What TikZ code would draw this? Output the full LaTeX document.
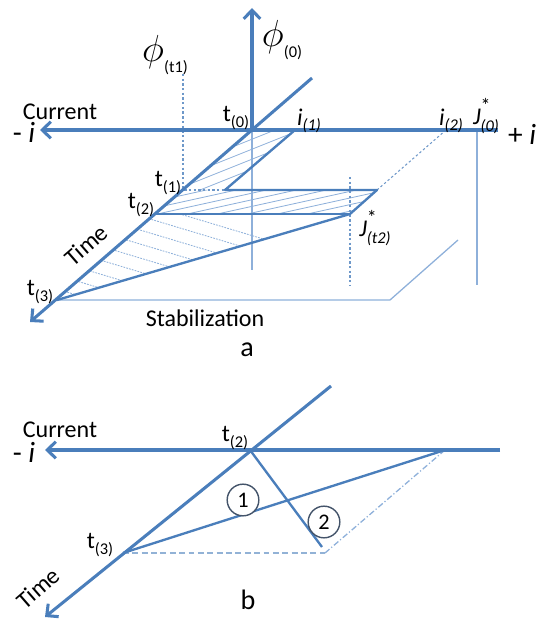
\documentclass[tikz,border=0pt]{standalone}
\usepackage{graphicx}
\usepackage{fontspec}
\setmainfont{Carlito}
\usetikzlibrary{arrows.meta}

\definecolor{axblue}{HTML}{4A7EBB}
\definecolor{lightblue}{HTML}{8EB0DA}
\definecolor{slate}{HTML}{44546A}

\newcommand{\subsize}{\fontsize{14}{16}\selectfont}
\newcommand{\tlab}[1]{t\raisebox{-0.45ex}{\subsize(#1)}}
\newcommand{\ilab}[1]{\textit{i}\raisebox{-0.45ex}{\subsize\itshape(#1)}}
\newcommand{\jlab}[1]{\textit{J}\rlap{\raisebox{1.05ex}{\fontsize{17}{18}\selectfont *}}\raisebox{-0.55ex}{\subsize\itshape(#1)}}
\newcommand{\philab}[1]{\scalebox{1.55}{$\phi$}\raisebox{-0.9ex}{\subsize(#1)}}

\begin{document}
\begin{tikzpicture}[
      x=0.03cm,y=-0.03cm,
      >={Straight Barb[length=2.6mm,width=5mm]},
      every node/.style={font=\fontsize{20.5}{23}\selectfont,inner sep=1pt},
      axis/.style={draw=axblue,line width=2.6pt},
      edge/.style={draw=axblue,line width=2pt},
      guide/.style={draw=lightblue,line width=1.1pt},
      dotguide/.style={draw=axblue!80,line width=0.9pt,dash pattern=on 2pt off 2pt},
      dashguide/.style={draw=axblue!60,line width=1.1pt,dash pattern=on 5pt off 3pt},
      dashdotguide/.style={draw=lightblue,line width=1.1pt,dash pattern=on 5pt off 2pt on 1pt off 2pt},
      hatch/.style={draw=lightblue,line width=0.7pt},
      bigi/.style={font=\fontsize{25}{27}\selectfont},
      num/.style={draw=slate,line width=1.2pt,circle,minimum size=0.95cm,inner sep=0pt,font=\fontsize{19}{21}\selectfont}
    ]
    \useasboundingbox (0,0) rectangle (540,623);
    % ---------- part a ----------
    \coordinate (O) at (252,130);
    \coordinate (axL) at (40,130);
    \coordinate (axR) at (498,130);
    \coordinate (phiTop) at (252,8);
    \coordinate (vBot) at (252,270);
    \coordinate (timeEnd) at (312,78);
    \coordinate (timeTip) at (30,322);
    \coordinate (t1) at (183,190);
    \coordinate (t2) at (155,214);
    \coordinate (t3) at (57,300);
    \coordinate (i1) at (295,130);
    \coordinate (i2) at (446,130);
    \coordinate (z1) at (225,190);
    \coordinate (z2) at (377,190);
    \coordinate (z3) at (350,214);
    \coordinate (J0) at (477,130);
    \coordinate (J0bot) at (477,285);
    \coordinate (jtTop) at (350,177);
    \coordinate (jtBot) at (350,285);
    \coordinate (phiT) at (183,74);
    \coordinate (stab1) at (390,300);
    \coordinate (stab2) at (458,240);
    % hatching
    \begin{scope}
      \clip (O) -- (i1) -- (z1) -- (t1) -- cycle;
      \foreach \k in {-100,-75,...,400}
        \draw[hatch] (\k,200) -- ++(300,-120);
    \end{scope}
    \begin{scope}
      \clip (t1) -- (z2) -- (z3) -- (t2) -- cycle;
      \foreach \k in {-200,-170,...,500}
        \draw[hatch] (\k,220) -- ++(400,-88);
    \end{scope}
    \begin{scope}
      \clip (t2) -- (z3) -- (t3) -- cycle;
      \foreach \k in {160,174,...,300}
        \draw[hatch,dash pattern=on 1.5pt off 1pt] (0,\k) -- ++(400,120);
    \end{scope}
    % guides
    \draw[guide] (O) -- (vBot);
    \draw[guide] (J0) -- (J0bot);
    \draw[guide] (t3) -- (stab1) -- (stab2);
    \draw[dotguide] (phiT) -- (t1) -- (z1);
    \draw[dotguide] (jtTop) -- (jtBot);
    \draw[dotguide] (i2) -- (z2);
    % path of the current
    \draw[edge,line join=round] (O) -- (i1) -- (z1) -- (z2) -- (z3) -- (t3);
    \draw[edge] (t2) -- (z3);
    % axes
    \draw[axis,->] (axR) -- (axL);
    \draw[axis,->] (O) -- (phiTop);
    \draw[axis,->] (timeEnd) -- (timeTip);
    % labels
    \node (curA) at (60,112) {Current};
    \node[bigi] (minA) at (24,132) {- \textit{i}};
    \node[bigi] (plusA) at (522,134) {+ \textit{i}};
    \node (phi0) at (282,40) {\philab{0}};
    \node (phit1) at (165,55) {\philab{t1}};
    \node (lt0) at (236,118) {\tlab{0}};
    \node (li1) at (309,121) {\ilab{1}};
    \node (li2) at (451,121) {\ilab{2}};
    \node (lj0) at (486,116) {\jlab{0}};
    \node (lt1) at (168,183) {\tlab{1}};
    \node (lt2) at (141,205) {\tlab{2}};
    \node (lt3) at (40,292) {\tlab{3}};
    \node[rotate=41] (timeA) at (86,245) {Time};
    \node (stab) at (205,318) {Stabilization};
    \node (ljt2) at (375,228) {\jlab{t2}};
    \node[font=\fontsize{24}{26}\selectfont] (capA) at (247,350) {a};
    % ---------- part b ----------
    \coordinate (Ob) at (250,450);
    \coordinate (axbL) at (45,450);
    \coordinate (axbR) at (500,450);
    \coordinate (timebEnd) at (331,386);
    \coordinate (timebTip) at (45,617);
    \coordinate (t3b) at (123,553);
    \coordinate (pb) at (322,547);
    \coordinate (qb) at (445,450);
    \coordinate (rb) at (325,553);
    \draw[dashguide] (t3b) -- (rb);
    \draw[dashdotguide] (rb) -- (qb);
    \draw[edge] (Ob) -- (pb);
    \draw[edge] (t3b) -- (qb);
    \draw[axis,->] (axbR) -- (axbL);
    \draw[axis,->] (timebEnd) -- (timebTip);
    \node[num,fill=white] (n1) at (243,500) {1};
    \node[num] (n2) at (324,522) {2};
    \node (curB) at (60,430) {Current};
    \node[bigi] (minB) at (24,452) {- \textit{i}};
    \node (lt2b) at (235,438) {\tlab{2}};
    \node (lt3b) at (100,545) {\tlab{3}};
    \node[rotate=41] (timeB) at (38,588) {Time};
    \node[font=\fontsize{24}{26}\selectfont] (capB) at (248,600) {b};
\end{tikzpicture}
\end{document}
